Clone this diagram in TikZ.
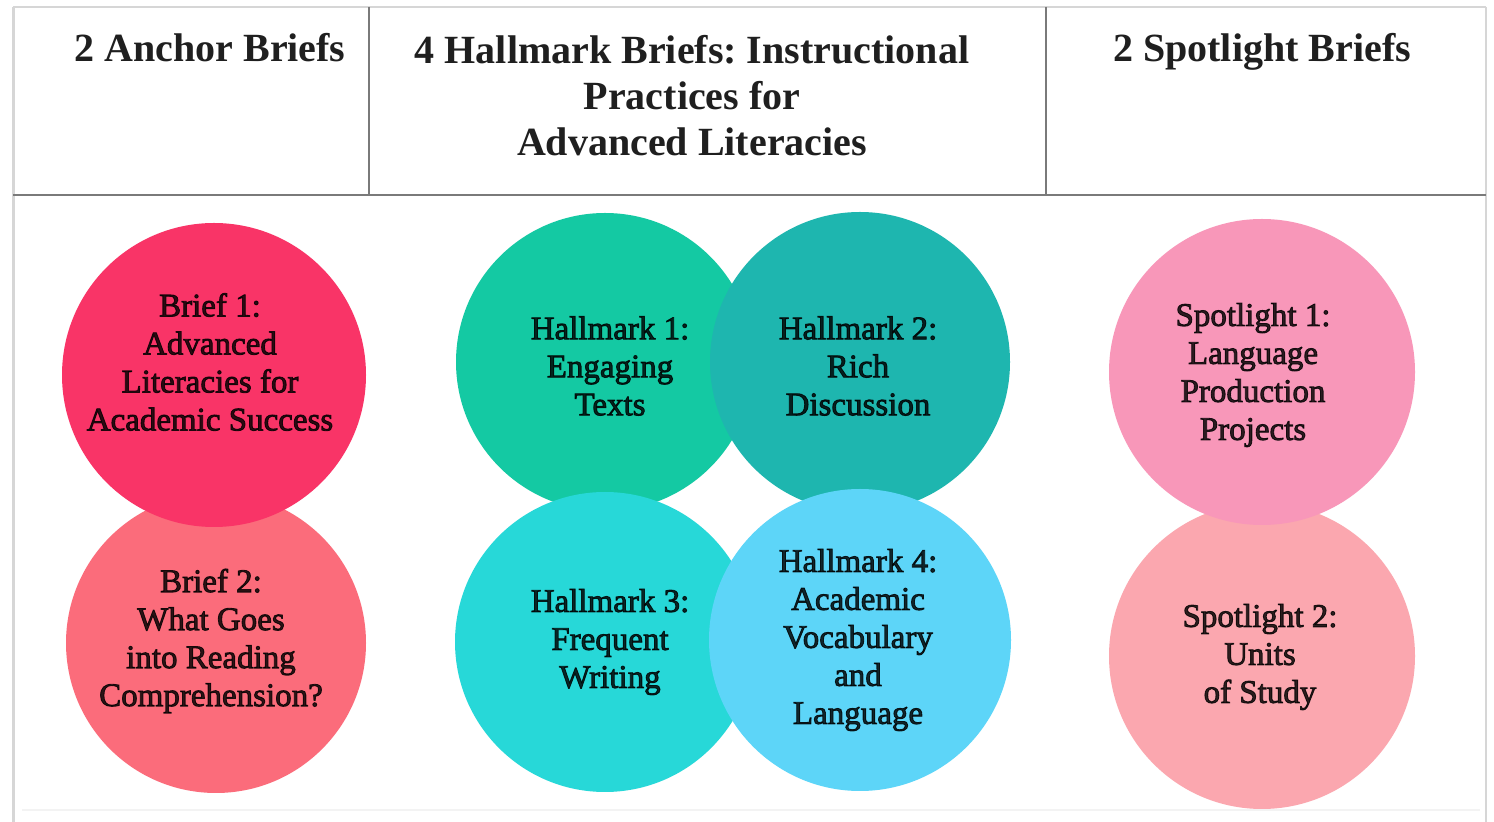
\documentclass[tikz,border=0pt]{standalone}
\usepackage{fontspec}
\setmainfont{Liberation Serif}
\newfontfamily\bubblefont{Liberation Serif}[FakeBold=2.5]
\usetikzlibrary{calc}
\frenchspacing

% fills of the bubbles
\definecolor{briefone}{HTML}{F93467}
\definecolor{brieftwo}{HTML}{FB6C7B}
\definecolor{hallone}{HTML}{14C9A3}
\definecolor{halltwo}{HTML}{1EB6AF}
\definecolor{hallthree}{HTML}{27D8D8}
\definecolor{hallfour}{HTML}{5DD5F8}
\definecolor{spotone}{HTML}{F897B9}
\definecolor{spottwo}{HTML}{FBA7AF}
% table rules
\definecolor{ruledark}{HTML}{7A7A7A}
\definecolor{rulelight}{HTML}{D6D6D6}
\definecolor{rulefaint}{HTML}{F3F3F3}

\begin{document}
\begin{tikzpicture}[x=0.5pt,y=-0.5pt,
  bubble/.style={circle, inner sep=0pt, draw=none, fill=#1},
  bubbletext/.style={align=center, inner sep=0pt,
    font=\bubblefont\fontsize{16.5}{19}\selectfont,
    text=black, text opacity=0.82},
  headtext/.style={align=center, inner sep=0pt,
    font=\bfseries\fontsize{20}{23}\selectfont, text=black!88},
  darkrule/.style={draw=ruledark, line width=1.1pt},
  lightrule/.style={draw=rulelight, line width=1pt}]

\useasboundingbox (0,0) rectangle (1494,822);
\fill[white] (0,0) rectangle (1494,822);

% table frame
\coordinate (tl) at (13,7);
\coordinate (tr) at (1486,7);
\coordinate (bl) at (13,822);
\coordinate (br) at (1486,822);
\coordinate (hl) at (13,195);
\coordinate (hr) at (1486,195);
\coordinate (da) at (369,7);
\coordinate (db) at (369,195);
\coordinate (dc) at (1046,7);
\coordinate (dd) at (1046,195);
\coordinate (fl) at (22,810);
\coordinate (fr) at (1480,810);

\draw[draw=rulefaint, line width=0.6pt] (fl) -- (fr);
\draw[lightrule, line width=0.7pt] (tl) -- (tr);
\draw[lightrule, line width=1.5pt] (tl) -- (bl);
\draw[lightrule] (tr) -- (br);
\draw[darkrule, line width=1.3pt] (hl) -- (hr);
\draw[darkrule] (da) -- (db);
\draw[darkrule] (dc) -- (dd);

% column headings
\node[headtext, anchor=base] (headA) at (210,62) {2 Anchor Briefs};
\node[headtext] (headB) at (692,96) {4 Hallmark Briefs: Instructional\\Practices for\\Advanced Literacies};
\node[headtext, anchor=base] (headC) at (1262,62) {2 Spotlight Briefs};

% anchor briefs
\node[bubble=brieftwo, minimum size=150pt] (b2) at (216,643) {};
\node[bubble=briefone, minimum size=152pt] (b1) at (214,375) {};
\node[bubbletext] (b1t) at (210,362) {Brief 1:\\Advanced\\Literacies for\\Academic Success};
\node[bubbletext] (b2t) at (211,641) {Brief 2:\\What Goes\\into Reading\\Comprehension?};

% hallmark briefs
\node[bubble=hallone, minimum size=149pt] (h1) at (605,362) {};
\node[bubble=halltwo, minimum size=150pt] (h2) at (860,362) {};
\node[bubble=hallthree, minimum size=150pt] (h3) at (605,642) {};
\node[bubble=hallfour, minimum size=151pt] (h4) at (860,640) {};
\node[bubbletext] (h1t) at (610,366) {Hallmark 1:\\Engaging\\Texts};
\node[bubbletext] (h2t) at (858,366) {Hallmark 2:\\Rich\\Discussion};
\node[bubbletext] (h3t) at (610,642) {Hallmark 3:\\Frequent\\Writing};
\node[bubbletext] (h4t) at (858,640) {Hallmark 4:\\Academic\\Vocabulary\\and\\Language};

% spotlight briefs
\node[bubble=spottwo, minimum size=153pt] (s2) at (1262,656) {};
\node[bubble=spotone, minimum size=153pt] (s1) at (1262,372) {};
\node[bubbletext] (s1t) at (1253,375) {Spotlight 1:\\Language\\Production\\Projects};
\node[bubbletext] (s2t) at (1260,657) {Spotlight 2:\\Units\\of Study};

\end{tikzpicture}
\end{document}
